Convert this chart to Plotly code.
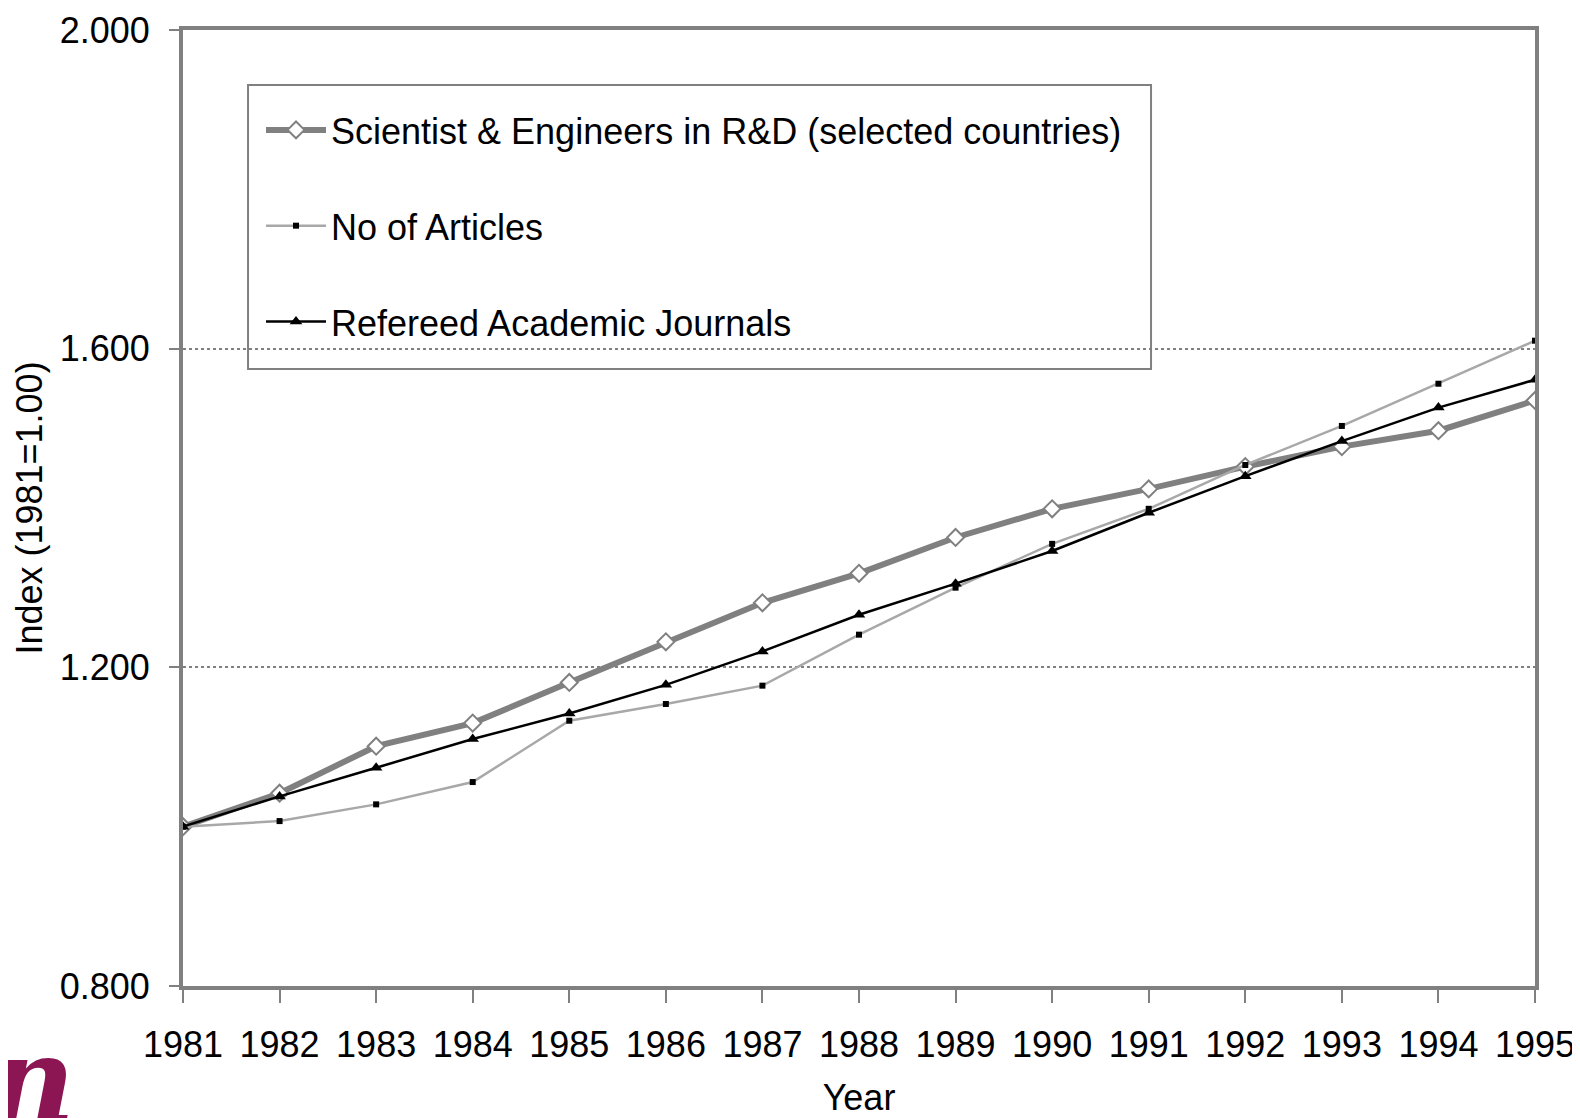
import plotly.graph_objects as go

years = list(range(1981, 1996))
scientists = [1.000, 1.042, 1.101, 1.130, 1.181, 1.232, 1.281, 1.318, 1.363, 1.399, 1.424, 1.452, 1.477, 1.497, 1.535]
articles = [1.000, 1.007, 1.028, 1.056, 1.133, 1.154, 1.177, 1.241, 1.300, 1.355, 1.399, 1.454, 1.503, 1.556, 1.610]
journals = [1.000, 1.038, 1.074, 1.110, 1.142, 1.178, 1.220, 1.266, 1.305, 1.346, 1.394, 1.440, 1.484, 1.526, 1.561]
y_ticks = [0.8, 1.2, 1.6, 2.0]
y_tick_labels = ["0.800", "1.200", "1.600", "2.000"]

FONT = "Liberation Sans, Arial, sans-serif"

fig = go.Figure()
fig.add_trace(go.Scatter(
    x=years, y=scientists, mode="lines+markers",
    name="Scientist & Engineers in R&D (selected countries)",
    legendgroup="a",
    line=dict(color="#808080", width=6),
    marker=dict(symbol="diamond", size=13, color="white", line=dict(color="#808080", width=2)),
))
fig.add_trace(go.Scatter(
    x=years, y=articles, mode="lines+markers",
    name="No of Articles",
    legendgroup="b",
    line=dict(color="#a8a8a8", width=2.5),
    marker=dict(symbol="square", size=6, color="black"),
))
fig.add_trace(go.Scatter(
    x=years, y=journals, mode="lines+markers",
    name="Refereed Academic Journals",
    legendgroup="c",
    line=dict(color="black", width=2.5),
    marker=dict(symbol="triangle-up", size=11, color="black"),
))

fig.update_layout(
    width=1572, height=1110,
    margin=dict(l=175, r=45, t=22, b=132),
    paper_bgcolor="white", plot_bgcolor="white",
    font=dict(family=FONT, size=36, color="black"),
    showlegend=True,
    legend=dict(
        x=0.0577, y=0.9268, xanchor="left", yanchor="top",
        bgcolor="rgba(0,0,0,0)", borderwidth=0,
        font=dict(family=FONT, size=36, color="black"),
        tracegroupgap=46, itemwidth=60, traceorder="grouped",
    ),
    xaxis=dict(
        range=[1981, 1995], tickmode="array", tickvals=years,
        ticktext=[str(y) for y in years],
        showline=True, linecolor="#808080", linewidth=4, mirror=True,
        ticks="outside", ticklen=13, tickwidth=2, tickcolor="#808080",
        ticklabelstandoff=11, ticklabeloverflow="allow",
        showgrid=False, zeroline=False, automargin=False,
        title=dict(text="Year", font=dict(size=36), standoff=50),
        tickfont=dict(size=36),
    ),
    yaxis=dict(
        range=[0.8, 2.0], tickmode="array", tickvals=y_ticks, ticktext=y_tick_labels,
        showline=True, linecolor="#808080", linewidth=4, mirror=True,
        ticks="outside", ticklen=10, tickwidth=2, tickcolor="#808080",
        ticklabelstandoff=12, ticklabeloverflow="allow",
        showgrid=True, gridcolor="#808080", gridwidth=1.5, griddash="dot",
        zeroline=False, automargin=False,
        title=dict(text="Index (1981=1.00)", font=dict(size=36), standoff=7),
        tickfont=dict(size=36),
    ),
)

# legend frame
fig.add_shape(
    type="rect", xref="paper", yref="paper",
    x0=0.0481, x1=0.716, y0=0.6454, y1=0.9425,
    line=dict(color="#808080", width=2), fillcolor="white", layer="between",
)

fig.add_annotation(
    text="<b><i>n</i></b>", xref="paper", yref="paper",
    x=-0.112, y=-0.098, xanchor="center", yanchor="middle",
    showarrow=False,
    font=dict(family="DejaVu Serif, serif", size=120, color="#8c1553"),
)

fig.write_html("out.html")
